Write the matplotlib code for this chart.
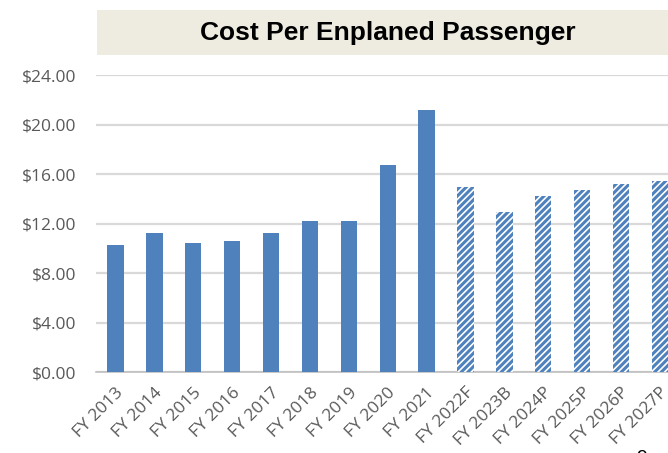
import matplotlib.pyplot as plt
from matplotlib.patches import Rectangle
from matplotlib.ticker import FuncFormatter, MultipleLocator

# cost per enplaned passenger, actuals then forecast/budget/projection
years = ["FY 2013", "FY 2014", "FY 2015", "FY 2016", "FY 2017", "FY 2018",
         "FY 2019", "FY 2020", "FY 2021", "FY 2022F", "FY 2023B", "FY 2024P",
         "FY 2025P", "FY 2026P", "FY 2027P"]
cpe = [10.26, 11.22, 10.42, 10.56, 11.24, 12.20, 12.20, 16.74, 21.17,
       14.95, 12.93, 14.22, 14.70, 15.19, 15.43]
n_actual = 9

BLUE = "#4F81BD"
GRID = "#D9D9D9"
LABEL = "#595959"

plt.rcParams["hatch.linewidth"] = 2.2

fig = plt.figure(figsize=(6.68, 4.53), dpi=100)
ax = fig.add_axes([0.1437, 0.1788, 0.8734, 0.6556])

x = list(range(len(years)))
ax.bar(x[:n_actual], cpe[:n_actual], width=0.42, color=BLUE, zorder=3)
ax.bar(x[n_actual:], cpe[n_actual:], width=0.42, facecolor="white",
       edgecolor=BLUE, linewidth=0, hatch="/////", zorder=3)

ax.set_xlim(-0.5, len(years) - 0.5)
ax.set_ylim(0, 24)
ax.yaxis.set_major_locator(MultipleLocator(4))
ax.yaxis.set_major_formatter(FuncFormatter(lambda v, _: f"${v:.2f}"))
ax.grid(axis="y", color=GRID, linewidth=1.6, zorder=0)
ax.tick_params(axis="y", length=0, pad=14, labelsize=12.5, labelcolor=LABEL)
ax.tick_params(axis="x", length=0, pad=9, labelsize=12.5, labelcolor=LABEL)
for lbl in ax.get_yticklabels():
    lbl.set_fontfamily("Open Sans")

ax.set_xticks(x)
ax.set_xticklabels(years, rotation=45, ha="right", rotation_mode="anchor",
                   family="Open Sans")

for s in ["top", "right", "left"]:
    ax.spines[s].set_visible(False)
ax.spines["bottom"].set_color("#BFBFBF")
ax.spines["bottom"].set_linewidth(1.2)

# title banner
fig.patches.append(Rectangle((0.145, 0.8786), 0.86, 0.0993,
                             transform=fig.transFigure, facecolor="#EEECE1",
                             edgecolor="none", zorder=0))
fig.text(0.581, 0.927, "Cost Per Enplaned Passenger", ha="center", va="center",
         fontsize=19, fontweight="bold", family="Liberation Sans", color="black")

# page number at the bottom edge
fig.text(0.961, -0.03, "9", ha="center", va="bottom", fontsize=14,
         family="Liberation Sans", color="black")

fig.savefig("out.png", dpi=100)
